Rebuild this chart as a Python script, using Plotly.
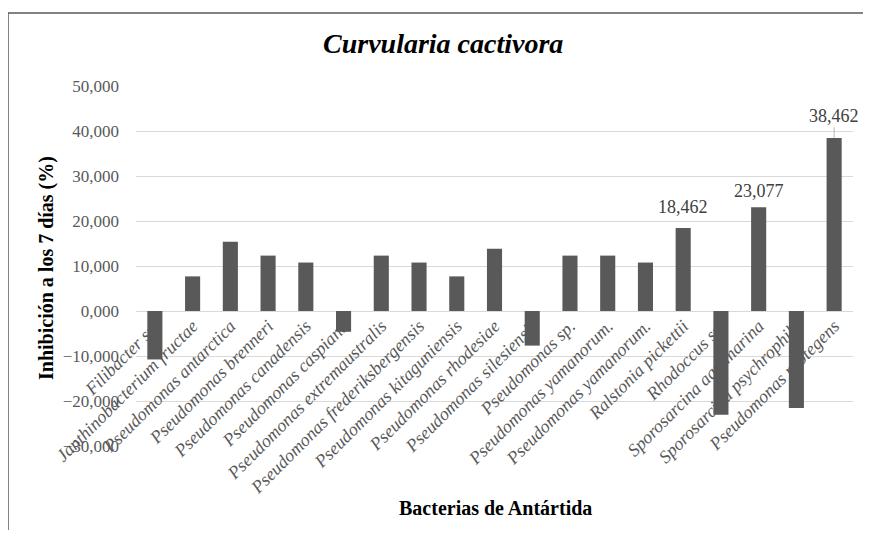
import plotly.graph_objects as go

categories = [
    "Filibacter sp.", "Janthinobacterium fructae", "Pseudomonas antarctica",
    "Pseudomonas brenneri", "Pseudomonas canadensis", "Pseudomonas caspiana",
    "Pseudomonas extremaustralis", "Pseudomonas frederiksbergensis",
    "Pseudomonas kitaguniensis", "Pseudomonas rhodesiae", "Pseudomonas silesiensis",
    "Pseudomonas sp.", "Pseudomonas yamanorum.", "Pseudomonas yamanorum. ",
    "Ralstonia pickettii", "Rhodoccus sp.", "Sporosarcina aquimarina",
    "Sporosarcina psychrophila", "Pseudomonas protegens",
]
values = [
    -10.769, 7.692, 15.385, 12.308, 10.769, -4.615, 12.308, 10.769, 7.692,
    13.846, -7.692, 12.308, 12.308, 10.769, 18.462, -23.077, 23.077, -21.538, 38.462,
]
labeled = [14, 16, 18]
y_ticks = [-30, -20, -10, 0, 10, 20, 30, 40, 50]

OFF = 8  # page body margin
W, H = 871 - 2 * OFF, 538 - 2 * OFF
PL, PR, PT, PB = 136, 853, 86, 446  # plot area in screen px
L, T = PL - OFF, PT - OFF
R = W - (PR - OFF)
B = H - (PB - OFF)
pw, ph = PR - PL, PB - PT

def px_x(p):
    return (p - PL) / pw

def px_y(p):
    return (PB - p) / ph

serif = "Liberation Serif"
gray = "#595959"

fig = go.Figure(go.Bar(
    x=list(range(len(categories))), y=values,
    marker=dict(color="#595959", line=dict(width=0)),
    width=0.4,
    hoverinfo="skip",
))

annotations = []
for i in labeled:
    v = values[i]
    txt = f"{v:.3f}".replace(".", ",")
    if i == 18:
        annotations.append(dict(
            x=i, y=v, xref="x", yref="y", text=txt,
            showarrow=True, arrowhead=0, arrowwidth=0.8, arrowcolor="#a6a6a6",
            ax=0, ay=-22, font=dict(family=serif, size=18, color="#404040"),
            standoff=0,
        ))
    else:
        shift = 21 if i == 14 else 16
        annotations.append(dict(
            x=i, y=v, xref="x", yref="y", text=txt,
            showarrow=False, yanchor="middle", yshift=shift,
            font=dict(family=serif, size=18, color="#404040"),
        ))

annotations.append(dict(
    x=px_x(46), y=px_y(268), xref="paper", yref="paper",
    text="<b>Inhibición a los 7 días (%)</b>", textangle=-90, showarrow=False,
    font=dict(family=serif, size=20, color="#000000"),
    xanchor="center", yanchor="middle",
))
annotations.append(dict(
    x=px_x(495), y=px_y(508), xref="paper", yref="paper",
    text="<b>Bacterias de Antártida</b>", showarrow=False,
    font=dict(family=serif, size=20, color="#000000"),
    xanchor="center", yanchor="middle",
))
annotations.append(dict(
    x=px_x(443), y=px_y(44), xref="paper", yref="paper",
    text="<b><i>Curvularia cactivora</i></b>", showarrow=False,
    font=dict(family=serif, size=28, color="#000000"),
    xanchor="center", yanchor="middle",
))

shapes = [
    dict(type="line", xref="paper", yref="paper", x0=px_x(8), x1=px_x(900),
         y0=px_y(13), y1=px_y(13), line=dict(color="#595959", width=1.5)),
    dict(type="line", xref="paper", yref="paper", x0=px_x(8), x1=px_x(8),
         y0=px_y(13), y1=px_y(560), line=dict(color="#595959", width=1.5)),
]

zero_frac = (0 - y_ticks[0]) / (y_ticks[-1] - y_ticks[0])

fig.update_layout(
    width=W, height=H,
    margin=dict(l=L, r=R, t=T, b=B, autoexpand=False),
    plot_bgcolor="white", paper_bgcolor="white",
    separators=",.",
    showlegend=False,
    xaxis=dict(
        tickmode="array", tickvals=list(range(len(categories))),
        ticktext=[f"<i>{c.strip()}</i>" for c in categories],
        tickangle=-45, range=[-0.5, len(categories) - 0.5],
        showgrid=False, zeroline=False, showline=False, ticks="",
        anchor="free", position=zero_frac,
        tickfont=dict(family=serif, size=18, color=gray),
    ),
    yaxis=dict(
        range=[y_ticks[0], y_ticks[-1]], tickvals=y_ticks, tickformat=".3f",
        showgrid=True, gridcolor="#d9d9d9", gridwidth=1,
        zeroline=True, zerolinecolor="#d9d9d9", zerolinewidth=1,
        showline=False, ticks="", ticklabelstandoff=16,
        tickfont=dict(family=serif, size=17, color=gray),
    ),
    annotations=annotations,
    shapes=shapes,
)

fig.write_html("out.html")
